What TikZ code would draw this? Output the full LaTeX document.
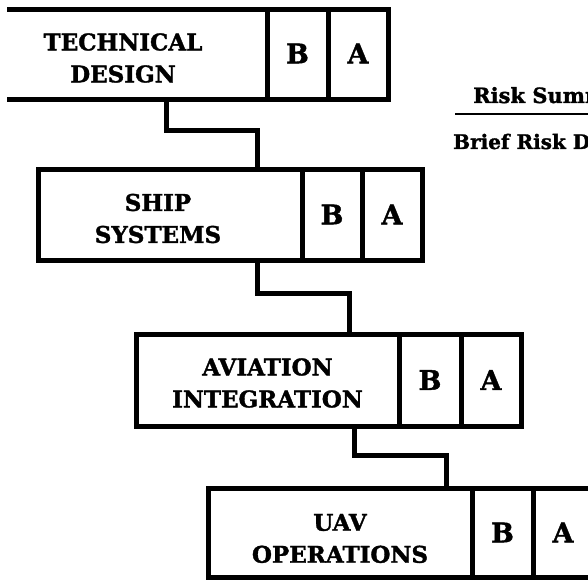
\documentclass[tikz,border=0pt]{standalone}
\usepackage{fontspec}
\setmainfont{DejaVu Serif}
\newfontfamily\heavy{DejaVu Serif}[BoldFeatures={FakeBold=1.5}]
\begin{document}
\begin{tikzpicture}[x=1pt,y=-1pt]
\tikzset{
  cell/.style={draw, line width=5pt, outer sep=0pt, inner sep=0pt, anchor=north west,
    font=\heavy\bfseries\fontsize{27}{32}\selectfont},
  boxtext/.style={align=center, inner sep=0pt, font=\heavy\bfseries\fontsize{23}{32}\selectfont},
  conn/.style={line width=5pt},
  sumtext/.style={inner sep=0pt, anchor=base west, font=\heavy\bfseries\fontsize{21}{24}\selectfont},
}
\useasboundingbox (0,0) rectangle (588,580);
\clip (0,0) rectangle (588,580);
% box 1
\begin{scope}
\clip (7,0) rectangle (588,580);
\node[cell, minimum width=288pt, minimum height=90pt] (n1) at (-21,10) {};
\end{scope}
\node[cell, minimum width=61pt, minimum height=90pt] (b1) at (n1.north east) {\raisebox{3pt}{B}};
\node[cell, minimum width=60pt, minimum height=90pt] (a1) at (b1.north east) {\raisebox{3pt}{A}};
\node[boxtext] (t1) at ([yshift=-3pt]n1.center) {TECHNICAL\\DESIGN};
% box 2
\node[cell, minimum width=264pt, minimum height=91pt] (n2) at (38,169) {};
\node[cell, minimum width=60pt, minimum height=91pt] (b2) at (n2.north east) {B};
\node[cell, minimum width=60pt, minimum height=91pt] (a2) at (b2.north east) {A};
\node[boxtext] (t2) at ([xshift=-12pt,yshift=-4pt]n2.center) {SHIP\\SYSTEMS};
% box 3
\node[cell, minimum width=263pt, minimum height=92pt] (n3) at (136,334) {};
\node[cell, minimum width=62pt, minimum height=92pt] (b3) at (n3.north east) {B};
\node[cell, minimum width=60pt, minimum height=92pt] (a3) at (b3.north east) {A};
\node[boxtext] (t3) at ([yshift=-3pt]n3.center) {AVIATION\\INTEGRATION};
% box 4
\node[cell, minimum width=264pt, minimum height=89pt] (n4) at (208,488) {};
\node[cell, minimum width=61pt, minimum height=89pt] (b4) at (n4.north east) {B};
\node[cell, minimum width=60pt, minimum height=89pt] (a4) at (b4.north east) {A};
\node[boxtext] (t4) at ([yshift=-6pt]n4.center) {UAV\\OPERATIONS};
% connectors
\draw[conn] ([xshift=187pt]n1.south west) -- ++(0,31) -| ([xshift=219pt]n2.north west);
\draw[conn] ([xshift=219pt]n2.south west) -- ++(0,33) -| ([xshift=213pt]n3.north west);
\draw[conn] ([xshift=218pt]n3.south west) -- ++(0,29) -| ([xshift=238pt]n4.north west);
% risk summary
\node[sumtext] (rs) at (473,103) {Risk Summary};
\coordinate (rl) at (455,114);
\coordinate (rr) at (600,114);
\draw[line width=2.5pt] (rl) -- (rr);
\node[sumtext, font=\heavy\bfseries\fontsize{20}{23}\selectfont] (rd) at (453,149) {Brief Risk Description};
\end{tikzpicture}
\end{document}
